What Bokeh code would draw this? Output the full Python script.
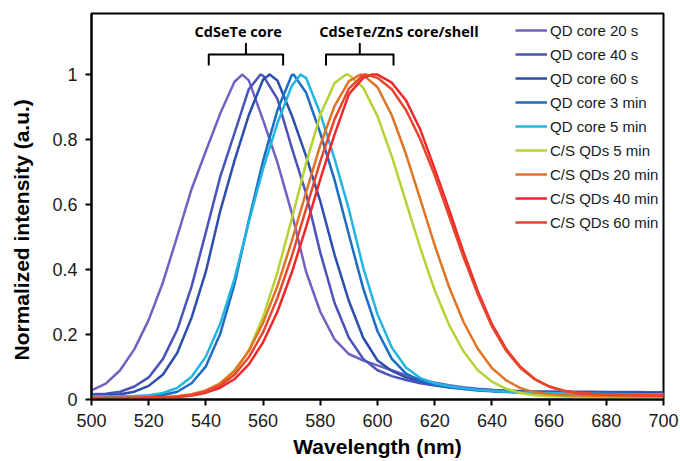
from bokeh.plotting import figure
from bokeh.models import Range1d, FixedTicker
from bokeh.core.properties import value
from bokeh.embed import file_html
from bokeh.resources import INLINE

# ---------------- data ----------------
wavelength = [500, 505, 510, 515, 520, 525, 530, 535, 540, 545, 550,
              555, 560, 565, 570, 575, 580, 585, 590, 595, 600,
              605, 610, 615, 620, 625, 630, 635, 640, 645, 650,
              655, 660, 665, 670, 675, 680, 685, 690, 695, 700]

qd_core_20s = [0.028, 0.049, 0.09, 0.155, 0.245, 0.361, 0.503, 0.648, 0.765, 0.88, 0.978,
               0.982, 0.86, 0.73, 0.575, 0.394, 0.27, 0.185, 0.14, 0.12, 0.105,
               0.09, 0.075, 0.062, 0.052, 0.044, 0.038, 0.033, 0.029, 0.026, 0.024,
               0.022, 0.021, 0.02, 0.02, 0.019, 0.019, 0.019, 0.018, 0.018, 0.018]
qd_core_40s = [0.016, 0.018, 0.024, 0.04, 0.068, 0.125, 0.215, 0.348, 0.515, 0.685, 0.82,
               0.955, 0.997, 0.925, 0.775, 0.635, 0.452, 0.297, 0.19, 0.125, 0.09,
               0.072, 0.06, 0.05, 0.043, 0.038, 0.034, 0.031, 0.029, 0.027, 0.026,
               0.025, 0.025, 0.024, 0.024, 0.024, 0.023, 0.023, 0.023, 0.022, 0.022]
qd_core_60s = [0.012, 0.013, 0.016, 0.024, 0.042, 0.077, 0.144, 0.252, 0.394, 0.58, 0.735,
               0.875, 0.985, 0.982, 0.875, 0.75, 0.61, 0.445, 0.303, 0.19, 0.12,
               0.088, 0.068, 0.055, 0.046, 0.04, 0.035, 0.031, 0.028, 0.026, 0.024,
               0.023, 0.022, 0.021, 0.021, 0.02, 0.02, 0.02, 0.02, 0.019, 0.019]
qd_core_3min = [0.01, 0.01, 0.01, 0.01, 0.011, 0.014, 0.024, 0.05, 0.102, 0.202, 0.355,
                0.551, 0.735, 0.89, 0.998, 0.945, 0.82, 0.675, 0.507, 0.342, 0.21,
                0.125, 0.08, 0.058, 0.045, 0.037, 0.032, 0.028, 0.025, 0.023, 0.021,
                0.02, 0.019, 0.019, 0.018, 0.018, 0.017, 0.017, 0.017, 0.016, 0.016]
qd_core_5min = [0.01, 0.01, 0.01, 0.011, 0.013, 0.02, 0.036, 0.07, 0.132, 0.233, 0.372,
                0.546, 0.71, 0.85, 0.965, 0.99, 0.88, 0.74, 0.585, 0.406, 0.262,
                0.16, 0.098, 0.066, 0.05, 0.041, 0.035, 0.03, 0.027, 0.024, 0.022,
                0.021, 0.02, 0.019, 0.018, 0.018, 0.017, 0.017, 0.016, 0.016, 0.016]
cs_qds_5min = [0.005, 0.005, 0.005, 0.005, 0.005, 0.006, 0.008, 0.012, 0.022, 0.042, 0.083,
               0.151, 0.254, 0.391, 0.555, 0.726, 0.876, 0.974, 0.999, 0.96, 0.872,
               0.748, 0.607, 0.465, 0.336, 0.23, 0.149, 0.091, 0.055, 0.033, 0.02,
               0.013, 0.01, 0.009, 0.008, 0.008, 0.008, 0.007, 0.007, 0.007, 0.007]
cs_qds_20min = [0.005, 0.005, 0.005, 0.005, 0.006, 0.007, 0.01, 0.016, 0.028, 0.05, 0.089,
                0.149, 0.236, 0.349, 0.487, 0.637, 0.783, 0.904, 0.98, 0.999, 0.961,
                0.875, 0.754, 0.615, 0.475, 0.347, 0.24, 0.157, 0.097, 0.059, 0.035,
                0.022, 0.016, 0.013, 0.012, 0.011, 0.011, 0.01, 0.01, 0.01, 0.01]
cs_qds_40min = [0.005, 0.005, 0.005, 0.005, 0.006, 0.007, 0.008, 0.012, 0.021, 0.036, 0.063,
                0.108, 0.176, 0.27, 0.39, 0.53, 0.678, 0.816, 0.94, 0.99, 1.0,
                0.975, 0.92, 0.83, 0.71, 0.585, 0.455, 0.335, 0.232, 0.155, 0.1,
                0.063, 0.04, 0.027, 0.02, 0.017, 0.015, 0.014, 0.013, 0.013, 0.012]
cs_qds_60min = [0.005, 0.005, 0.005, 0.005, 0.006, 0.007, 0.009, 0.014, 0.025, 0.043, 0.076,
                0.13, 0.207, 0.312, 0.44, 0.586, 0.733, 0.863, 0.957, 0.999, 0.99,
                0.955, 0.89, 0.80, 0.69, 0.565, 0.44, 0.325, 0.225, 0.15, 0.097,
                0.062, 0.04, 0.027, 0.021, 0.018, 0.016, 0.015, 0.014, 0.014, 0.013]

# emission maxima (normalized to 1)
peak_wavelength = [552.7, 559.1, 562.3, 570.7, 573.1, 589.0, 594.0, 598.0, 596.0]
peak_value = [1.0, 1.0, 1.0, 1.0, 1.0, 1.0, 1.0, 1.0, 1.0]

series_names = ["QD core 20 s", "QD core 40 s", "QD core 60 s", "QD core 3 min",
                "QD core 5 min", "C/S QDs 5 min", "C/S QDs 20 min",
                "C/S QDs 40 min", "C/S QDs 60 min"]
series_values = [qd_core_20s, qd_core_40s, qd_core_60s, qd_core_3min, qd_core_5min,
                 cs_qds_5min, cs_qds_20min, cs_qds_40min, cs_qds_60min]
series_colors = ["#6f62c4", "#4b53bb", "#2b4fae", "#1c6cc2", "#22b5e3",
                 "#b5d334", "#e07425", "#f0282a", "#e8462c"]

x_ticks = [500, 520, 540, 560, 580, 600, 620, 640, 660, 680, 700]
y_ticks = [0, 0.2, 0.4, 0.6, 0.8, 1]
y_tick_labels = ["0", "0.2", "0.4", "0.6", "0.8", "1"]

# annotation groups: label, bracket start / end (nm), label centre (nm)
group_labels = ["CdSeTe core", "CdSeTe/ZnS core/shell"]
bracket_start = [541.0, 582.0]
bracket_end = [567.0, 605.6]
label_center = [551.3, 607.5]

# ---------------- figure ----------------
p = figure(width=680, height=461, output_backend="svg", toolbar_location=None,
           x_range=Range1d(500, 700), y_range=Range1d(0, 1.188),
           min_border_left=91, min_border_right=17, min_border_top=13,
           min_border_bottom=62)
p.background_fill_color = "white"
p.border_fill_color = "white"
p.outline_line_color = "black"
p.outline_line_width = 2
p.grid.visible = False

for name, vals, col, pk_x, pk_y in zip(series_names, series_values, series_colors,
                                       peak_wavelength, peak_value):
    pts = sorted(list(zip(wavelength, vals)) + [(pk_x, pk_y)])
    xs = [a for a, _ in pts]
    ys = [b for _, b in pts]
    p.line(xs, ys, line_color=col, line_width=2.5, line_join="round",
           legend_label=name)

# brackets
for x0, x1 in zip(bracket_start, bracket_end):
    xm = (x0 + x1) / 2
    p.line([x0, x0, xm, xm, xm, x1, x1],
           [1.028, 1.062, 1.062, 1.095, 1.062, 1.062, 1.028],
           line_color="black", line_width=2, line_join="round")

p.text(x=label_center, y=[1.132, 1.132], text=group_labels,
       text_font=value("Open Sans"), text_font_style="bold",
       text_font_size="14.5px", text_align="center", text_baseline="middle",
       text_color="black")

# axes
for ax in (p.xaxis[0], p.yaxis[0]):
    ax.axis_line_color = "black"
    ax.axis_line_width = 2
    ax.major_tick_line_color = "black"
    ax.major_tick_line_width = 2
    ax.major_tick_out = 6
    ax.major_tick_in = 0
    ax.minor_tick_line_color = None
    ax.major_label_text_font = "Liberation Sans"
    ax.major_label_text_font_size = "18px"
    ax.major_label_text_color = "#1a1a1a"
    ax.major_label_standoff = 8
    ax.axis_label_text_font = "Liberation Sans"
    ax.axis_label_text_font_style = "bold"
    ax.axis_label_text_font_size = "21px"
    ax.axis_label_text_color = "black"

p.xaxis.ticker = FixedTicker(ticks=x_ticks)
p.yaxis.ticker = FixedTicker(ticks=y_ticks)
p.yaxis.major_label_overrides = {t: s for t, s in zip(y_ticks, y_tick_labels)}
p.xaxis.axis_label = "Wavelength (nm)"
# trailing no-break spaces shift the centred title down, as in the reference
p.yaxis.axis_label = "Normalized intensity (a.u.)" + "\u00a0" * 8
p.xaxis.axis_label_standoff = 5
p.yaxis.axis_label_standoff = 16

# legend
lg = p.legend[0]
lg.location = (424, 165)
lg.border_line_alpha = 0
lg.background_fill_alpha = 0
lg.padding = 0
lg.margin = 0
lg.spacing = 0
lg.glyph_width = 32
lg.glyph_height = 24
lg.label_height = 24
lg.label_standoff = 3
lg.label_text_font = "Liberation Sans"
lg.label_text_font_size = "15px"
lg.label_text_color = "#1a1a1a"

open("out.html", "w").write(file_html(p, INLINE))
